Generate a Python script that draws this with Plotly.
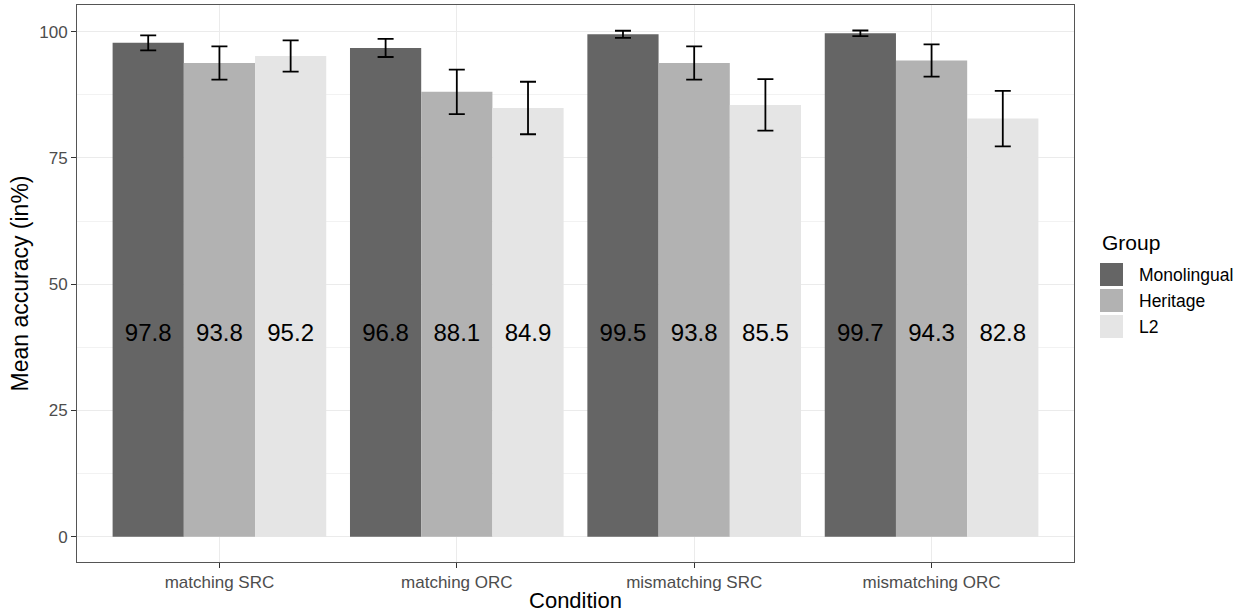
import plotly.graph_objects as go

conditions = ["matching SRC", "matching ORC", "mismatching SRC", "mismatching ORC"]
groups = ["Monolingual", "Heritage", "L2"]
colors = ["#656565", "#b2b2b2", "#e5e5e5"]

mono_mean = [97.8, 96.8, 99.5, 99.7]
heri_mean = [93.8, 88.1, 93.8, 94.3]
l2_mean = [95.2, 84.9, 85.5, 82.8]

mono_err = [1.5, 1.8, 0.7, 0.55]
heri_err = [3.3, 4.4, 3.3, 3.2]
l2_err = [3.1, 5.2, 5.1, 5.5]

label_y = 40
y_ticks = [0, 25, 50, 75, 100]

means = [mono_mean, heri_mean, l2_mean]
errs = [mono_err, heri_err, l2_err]

FONT = "Liberation Sans, Arial, sans-serif"
dodge = 0.9
bw = dodge / len(groups)

fig = go.Figure()
cat_pos = [i + 1 for i in range(len(conditions))]
for gi, g in enumerate(groups):
    off = (gi - (len(groups) - 1) / 2) * bw
    xs = [c + off for c in cat_pos]
    fig.add_trace(go.Bar(
        x=xs, y=means[gi], width=bw, name=g,
        marker=dict(color=colors[gi], line=dict(width=0)),
        error_y=dict(type="data", array=errs[gi], visible=True,
                     color="black", thickness=1.8, width=8),
        showlegend=False,
    ))
    fig.add_trace(go.Scatter(
        x=xs, y=[label_y] * len(xs), mode="text",
        text=[f"{v:.1f}" for v in means[gi]],
        textfont=dict(size=24, color="black", family=FONT),
        showlegend=False, hoverinfo="skip",
    ))

# plot area in pixels
L, R, T, B = 77, 1074, 5, 562
W, H = 1245, 613

def px(x):
    return (x - L) / (R - L)

def py(y):
    return (B - y) / (B - T)

shapes = []
annotations = [dict(x=px(1100), y=py(243), xref="paper", yref="paper",
                    text="Group", showarrow=False, xanchor="left", yanchor="middle",
                    font=dict(size=21, color="black", family=FONT))]
for gi, g in enumerate(groups):
    top = 263 + gi * 26
    shapes.append(dict(type="rect", xref="paper", yref="paper",
                       x0=px(1100), x1=px(1123), y0=py(top + 23), y1=py(top),
                       fillcolor=colors[gi], line=dict(width=0)))
    annotations.append(dict(x=px(1137), y=py(top + 11.5), xref="paper", yref="paper",
                            text=g, showarrow=False, xanchor="left", yanchor="middle",
                            font=dict(size=17.5, color="black", family=FONT)))

fig.update_layout(
    width=W, height=H,
    margin=dict(l=L, r=W - R, t=T, b=H - B),
    plot_bgcolor="white", paper_bgcolor="white",
    showlegend=False,
    shapes=shapes, annotations=annotations,
    font=dict(family=FONT),
)
fig.update_xaxes(
    range=[0.4, 4.6], tickvals=cat_pos, ticktext=conditions,
    showgrid=True, gridcolor="#ebebeb", gridwidth=1, zeroline=False,
    showline=True, mirror=True, linecolor="#555555", linewidth=1,
    ticks="outside", ticklen=5, tickcolor="#333333",
    tickfont=dict(size=17, color="#4d4d4d", family=FONT),
    title=dict(text="Condition", font=dict(size=22, color="black", family=FONT), standoff=2),
    automargin=False,
)
fig.update_yaxes(
    range=[-5.02, 105.3], tickvals=y_ticks,
    showgrid=True, gridcolor="#ebebeb", gridwidth=1, zeroline=False,
    minor=dict(tickvals=[12.5, 37.5, 62.5, 87.5], showgrid=True, gridcolor="#f2f2f2", gridwidth=0.7),
    showline=True, mirror=True, linecolor="#555555", linewidth=1,
    ticks="outside", ticklen=5, tickcolor="#333333",
    tickfont=dict(size=17, color="#4d4d4d", family=FONT),
    title=dict(text="Mean accuracy (in%)", font=dict(size=23, color="black", family=FONT), standoff=4),
    automargin=False,
)

fig.write_html("out.html", config={"displayModeBar": False},
               post_script="document.body.style.margin='0';document.body.style.padding='0';")
